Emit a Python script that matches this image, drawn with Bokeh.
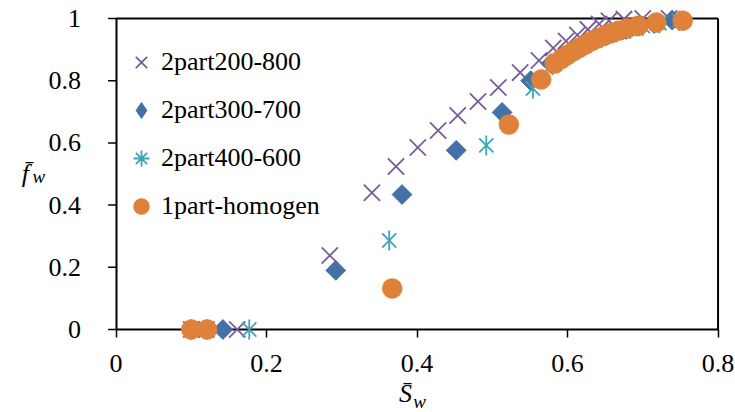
import numpy as np
from bokeh.plotting import figure
from bokeh.models import Range1d, FixedTicker, Legend, LegendItem, Label
from bokeh.embed import file_html
from bokeh.resources import INLINE

# ---------------- data ----------------
series_names = ["2part200-800", "2part300-700", "2part400-600", "1part-homogen"]

x_2part200_800 = [0.10, 0.12, 0.161, 0.284, 0.340, 0.372, 0.401, 0.428, 0.454, 0.481,
                  0.508, 0.537, 0.562, 0.581, 0.598, 0.613, 0.627, 0.642, 0.655, 0.675,
                  0.700, 0.735]
y_2part200_800 = [0.0, 0.0, 0.0, 0.238, 0.440, 0.524, 0.585, 0.640, 0.688, 0.733,
                  0.778, 0.826, 0.865, 0.905, 0.928, 0.947, 0.965, 0.982, 0.993, 0.998,
                  1.0, 1.0]

x_2part300_700 = [0.10, 0.12, 0.142, 0.292, 0.380, 0.452, 0.513, 0.551, 0.578, 0.592,
                  0.606, 0.620, 0.634, 0.648, 0.662, 0.678, 0.695, 0.715, 0.739]
y_2part300_700 = [0.0, 0.0, 0.0, 0.190, 0.434, 0.576, 0.698, 0.800, 0.855, 0.878,
                  0.898, 0.915, 0.930, 0.944, 0.955, 0.965, 0.975, 0.984, 0.995]

x_2part400_600 = [0.10, 0.12, 0.177, 0.363, 0.492, 0.554, 0.580, 0.595, 0.609, 0.623,
                  0.637, 0.651, 0.666, 0.683, 0.700, 0.722, 0.748]
y_2part400_600 = [0.0, 0.0, 0.0, 0.286, 0.592, 0.775, 0.850, 0.876, 0.897, 0.914,
                  0.930, 0.944, 0.956, 0.966, 0.976, 0.985, 0.993]

x_1part_homogen = [0.10, 0.121, 0.367, 0.522, 0.565, 0.583, 0.592, 0.600, 0.608, 0.616,
                   0.624, 0.632, 0.640, 0.649, 0.658, 0.668, 0.680, 0.694, 0.718, 0.753]
y_1part_homogen = [0.0, 0.0, 0.132, 0.659, 0.804, 0.855, 0.870, 0.883, 0.895, 0.906,
                   0.917, 0.927, 0.936, 0.945, 0.953, 0.961, 0.969, 0.977, 0.987, 0.993]

x_ticks = [0.0, 0.2, 0.4, 0.6, 0.8]
x_tick_labels = ["0", "0.2", "0.4", "0.6", "0.8"]
y_ticks = [0.0, 0.2, 0.4, 0.6, 0.8, 1.0]
y_tick_labels = ["0", "0.2", "0.4", "0.6", "0.8", "1"]

X_MIN, X_MAX = 0.0, 0.8
Y_MIN, Y_MAX = 0.0, 1.0

# ---------------- style ----------------
PURPLE = "#7A5C9A"
BLUE = "#4470A8"
TEAL = "#3EA3B8"
ORANGE = "#DF8138"
FONT = "Liberation Serif, DejaVu Serif"
Y_TICK_LEN = 0.0106   # 8 px in x data units

# the frame covers the whole canvas; axes sit at x=0 / y=0 inside it
p = figure(width=735, height=412,
           x_range=Range1d(-0.1536, 0.8232), y_range=Range1d(-0.2669, 1.0579),
           output_backend="svg", toolbar_location=None,
           min_border_left=0, min_border_right=0,
           min_border_top=0, min_border_bottom=0)
p.outline_line_color = None
p.xgrid.visible = False
p.ygrid.visible = False
p.background_fill_color = "white"
p.border_fill_color = "white"

# frame lines at top and right
p.segment(x0=[X_MIN, X_MAX], y0=[Y_MAX, Y_MIN], x1=[X_MAX, X_MAX], y1=[Y_MAX, Y_MAX],
          line_color="black", line_width=2)
# y tick marks (8 px outward)
p.segment(x0=[X_MIN] * len(y_ticks), y0=y_ticks, x1=[X_MIN - Y_TICK_LEN] * len(y_ticks), y1=y_ticks,
          line_color="black", line_width=1.5)

for ax, ticks, labels in ((p.xaxis[0], x_ticks, x_tick_labels),
                          (p.yaxis[0], y_ticks, y_tick_labels)):
    ax.ticker = FixedTicker(ticks=ticks)
    ax.major_label_overrides = {t: l for t, l in zip(ticks, labels)}
    ax.minor_tick_line_color = None
    ax.major_tick_in = 0
    ax.major_tick_out = 8
    ax.major_tick_line_width = 1.5
    ax.major_tick_line_color = "black"
    ax.axis_line_width = 2
    ax.axis_line_color = "black"
    ax.major_label_text_font = FONT
    ax.major_label_text_font_size = "26px"
    ax.major_label_text_color = "black"
    ax.fixed_location = 0.0
    ax.level = "underlay"

# longer invisible y ticks push the y tick labels further left
p.yaxis[0].major_tick_out = 14
p.yaxis[0].major_tick_line_color = None

p.xaxis[0].bounds = (X_MIN, X_MAX)
p.yaxis[0].bounds = (Y_MIN, Y_MAX)
p.xaxis[0].major_label_standoff = 18
p.yaxis[0].major_label_standoff = 21

# ---------------- series ----------------
r1 = p.scatter(x_2part200_800, y_2part200_800, marker="x", size=23,
               line_color=PURPLE, line_width=1.8)
r2 = p.scatter(x_2part300_700, y_2part300_700, marker="square", size=14, angle=np.pi / 4,
               fill_color=BLUE, line_color=BLUE, line_width=1)
r3a = p.scatter(x_2part400_600, y_2part400_600, marker="x", size=20,
                line_color=TEAL, line_width=1.8)
r3b = p.scatter(x_2part400_600, y_2part400_600, marker="dash", size=20, angle=np.pi / 2,
                line_color=TEAL, line_width=1.8)
r4 = p.scatter(x_1part_homogen, y_1part_homogen, marker="circle", size=20,
               fill_color=ORANGE, line_color=ORANGE, line_width=0.5)

# legend-only glyphs (legend swatches are drawn without rotation); NaN -> nothing drawn in the plot
lg2 = p.scatter(x=[np.nan], y=[np.nan], marker="diamond", fill_color=BLUE, line_color=BLUE, line_width=1)
lg3 = p.scatter(x=[np.nan], y=[np.nan], marker="asterisk", line_color=TEAL, line_width=1.8)

legend = Legend(items=[
    LegendItem(label=series_names[0], renderers=[r1]),
    LegendItem(label=series_names[1], renderers=[lg2]),
    LegendItem(label=series_names[2], renderers=[lg3]),
    LegendItem(label=series_names[3], renderers=[r4]),
], location=(121, 184), orientation="vertical",
    border_line_color=None, background_fill_alpha=0,
    label_text_font=FONT, label_text_font_size="26px", label_text_color="black",
    glyph_width=40, glyph_height=44, label_height=44, label_standoff=0,
    spacing=4, padding=0, margin=0)
p.add_layout(legend)

# ---------------- axis titles ----------------
p.add_layout(Label(x=-0.1204, y=0.502, text="f\u0304", text_font=FONT, text_font_style="italic",
                   text_font_size="26px", text_align="center", text_baseline="alphabetic",
                   text_color="black"))
p.add_layout(Label(x=-0.111, y=0.492, text="w", text_font=FONT, text_font_style="italic",
                   text_font_size="19px", text_align="left", text_baseline="alphabetic",
                   text_color="black"))
p.add_layout(Label(x=0.3846, y=-0.2057, text="S\u0304", text_font=FONT, text_font_style="italic",
                   text_font_size="26px", text_align="center", text_baseline="alphabetic",
                   text_color="black"))
p.add_layout(Label(x=0.395, y=-0.231, text="w", text_font=FONT, text_font_style="italic",
                   text_font_size="19px", text_align="left", text_baseline="alphabetic",
                   text_color="black"))

open("out.html", "w").write(file_html(p, INLINE))
